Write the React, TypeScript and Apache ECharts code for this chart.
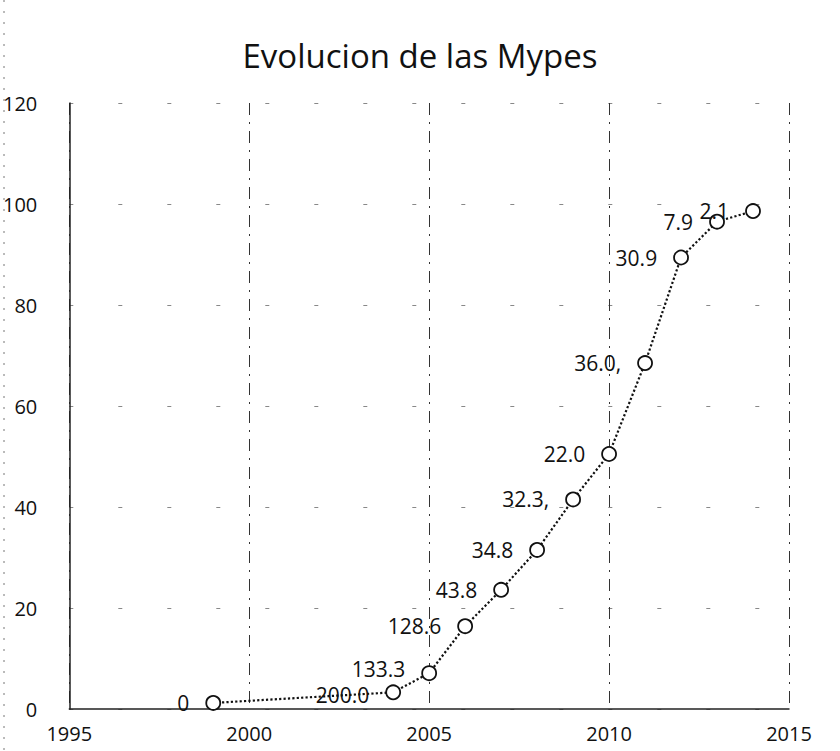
import React, { useEffect, useRef } from "react";
import * as echarts from "echarts";

const titleText = "Evolucion de las Mypes";
const years = [1999, 2004, 2005, 2006, 2007, 2008, 2009, 2010, 2011, 2012, 2013, 2014];
const values = [1.2, 3.3, 7.1, 16.4, 23.6, 31.5, 41.5, 50.5, 68.5, 89.4, 96.5, 98.6];
const pointLabels = ["0", "200.0", "133.3", "128.6", "43.8", "34.8", "32.3,", "22.0", "36.0,", "30.9", "7.9", "2.1"];

const FONT = "'Open Sans', 'Noto Sans', sans-serif";

export default function App() {
  const ref = useRef<HTMLDivElement>(null);
  useEffect(() => {
    if (!ref.current) return;
    const chart = echarts.init(ref.current, null, { renderer: "svg" });
    const nudges: Record<number, [number, number]> = { 1: [0, 3], 2: [0, -4] };
    const data = years.map((y, i) => ({
      value: [y, values[i]],
      labelText: pointLabels[i],
      label: nudges[i] ? { offset: nudges[i] } : undefined,
    }));
    chart.setOption({
      animation: false,
      backgroundColor: "#ffffff",
      title: {
        text: titleText,
        left: "center",
        top: 34,
        textStyle: { fontFamily: FONT, fontSize: 33, fontWeight: "normal", color: "#111" },
      },
      grid: { left: 69, right: 51, top: 103, bottom: 42, containLabel: false },
      xAxis: {
        type: "value",
        min: 1995,
        max: 2015,
        interval: 5,
        axisLine: { show: true, lineStyle: { color: "#222", width: 1.5 } },
        axisTick: { show: false },
        axisLabel: {
          fontFamily: FONT,
          fontSize: 20,
          color: "#111",
          margin: 14,
          formatter: (v: number) => String(v),
        },
        splitLine: { show: true, lineStyle: { color: "#333", width: 1, type: [12, 7, 2, 7] } },
      },
      yAxis: {
        type: "value",
        min: 0,
        max: 120,
        interval: 20,
        axisLine: { show: true, lineStyle: { color: "#222", width: 1.5 } },
        axisTick: { show: false },
        axisLabel: { fontFamily: FONT, fontSize: 20, color: "#111", margin: 32 },
        splitLine: { show: true, lineStyle: { color: "#888", width: 1, type: [4, 45] } },
      },
      graphic: [
        {
          type: "line",
          shape: { x1: 4, y1: 0, x2: 4, y2: 751 },
          style: { stroke: "#777", lineWidth: 1, lineDash: [2, 9] },
        },
      ],
      series: [
        {
          type: "line",
          data,
          symbol: "circle",
          symbolSize: 14,
          itemStyle: { color: "#fff", borderColor: "#111", borderWidth: 1.8 },
          lineStyle: { color: "#111", width: 2.2, type: "dotted" },
          label: {
            show: true,
            position: "left",
            distance: 16,
            fontFamily: FONT,
            fontSize: 21,
            lineHeight: 22,
            color: "#111",
            formatter: (p: any) => p.data.labelText,
          },
        },
      ],
    });
    return () => chart.dispose();
  }, []);
  return <div ref={ref} style={{ width: 840, height: 751, position: "absolute", left: 0, top: 0 }} />;
}
